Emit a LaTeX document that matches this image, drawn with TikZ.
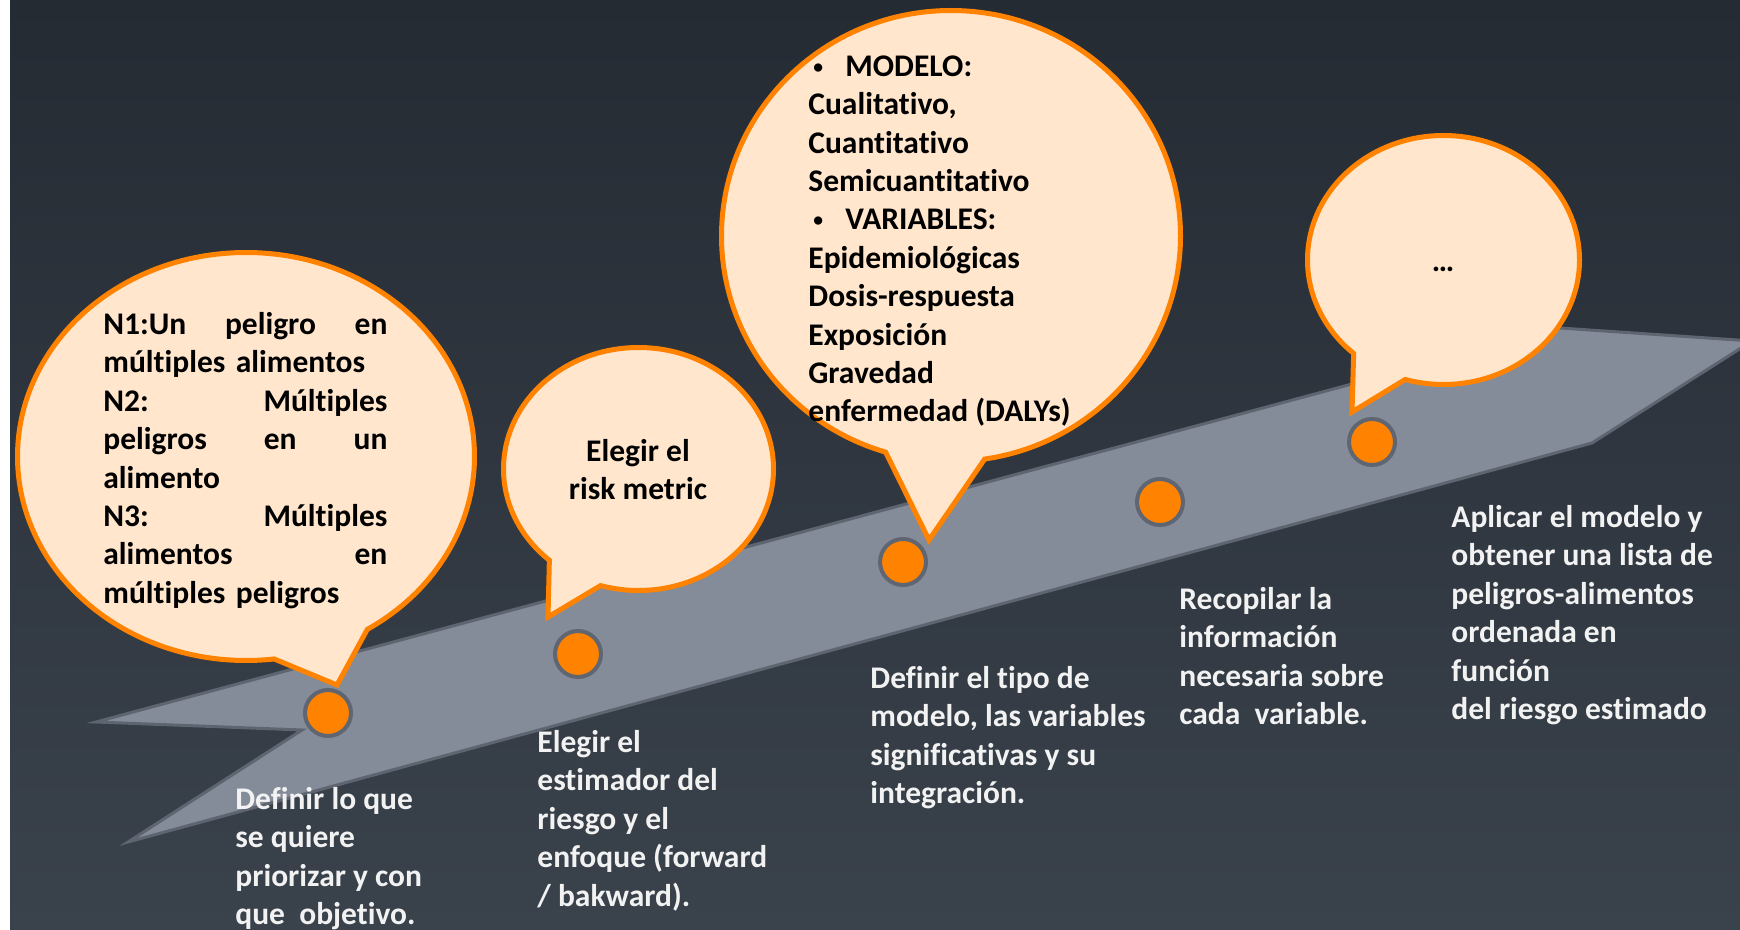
\documentclass[tikz,border=0pt]{standalone}
\usepackage{fontspec}
\setmainfont{Carlito}[Ligatures={NoCommon}]
\usetikzlibrary{shapes.callouts}
\definecolor{bgtop}{RGB}{37,43,51}
\definecolor{bgmid}{RGB}{39,46,55}
\definecolor{bgbot}{RGB}{58,66,76}
\definecolor{bandfill}{RGB}{133,140,153}
\definecolor{bandline}{RGB}{94,100,112}
\definecolor{orng}{RGB}{255,130,0}
\definecolor{peach}{RGB}{255,230,204}
\definecolor{dotline}{RGB}{95,102,114}
\definecolor{steptxt}{RGB}{242,242,242}
\newcommand{\bubbullet}{\hspace*{2.5pt}\makebox[16pt][l]{\raisebox{1.6pt}{\scalebox{0.62}{•}}}}
\tikzset{
	bubble/.style={ellipse callout, draw=orng, fill=peach, line width=2.5pt, callout pointer arc=25, inner sep=0pt},
	stepdot/.style={circle, draw=dotline, fill=orng, line width=2pt, minimum size=23pt, inner sep=0pt},
	bubtext/.style={anchor=north west, inner sep=0pt, align=left, text=black, font={\fontsize{15.75}{19.2}\selectfont\bfseries}},
	steptext/.style={bubtext, text=steptxt},
	band/.style={fill=bandfill, draw=bandline, line width=1.5pt, line join=miter}
}
\begin{document}
\begin{tikzpicture}[x=0.5pt, y=-0.5pt]
				\useasboundingbox (0, 0) rectangle (1740, 930);
				\fill[white] (0, 0) rectangle (10, 930);
				\shade[top color=bgtop, middle color=bgmid, bottom color=bgbot] (10, 0) rectangle (1740, 930);
				\draw[band] (96, 722) -- (1560, 328) -- (1752, 341) -- (1592, 443) -- (128, 842) -- (302, 730) -- cycle;
				\coordinate (tip1)at(337, 685);
				\coordinate (tip2)at(548, 617);
				\coordinate (tip3)at(929, 540);
				\coordinate (tip4)at(1352, 412);
				\node[bubble, minimum width=228.5pt, minimum height=204pt, callout absolute pointer={(tip1)}] (B1)at(246, 456.5) {};
				\node[bubble, minimum width=135pt, minimum height=121.5pt, callout absolute pointer={(tip2)}] (B2)at(638.5, 469) {};
				\node[bubble, minimum width=229.5pt, minimum height=225.5pt, callout absolute pointer={(tip3)}] (B3)at(951, 236) {};
				\node[bubble, minimum width=136pt, minimum height=124.5pt, callout absolute pointer={(tip4)}] (B4)at(1443.5, 260) {};
				\node[stepdot] (P1)at(328, 713) {};
				\node[stepdot] (P2)at(578, 654) {};
				\node[stepdot] (P3)at(903, 562) {};
				\node[stepdot] (P4)at(1160, 502) {};
				\node[stepdot] (P5)at(1372, 442) {};
				\node[bubtext, text width=142pt] (Q1)at(103, 312) {\rule{0pt}{11pt}N1:Un\hfill peligro\hfill en\\múltiples alimentos\\N2:\hfill Múltiples\\peligros\hfill en\hfill un\\alimento\\N3:\hfill Múltiples\\alimentos\hfill en\\múltiples peligros};
				\node[bubtext, anchor=north, align=center] (Q2)at(638, 439) {\rule{0pt}{11pt}Elegir el\\risk metric};
				\node[bubtext] (Q3)at(808, 54) {\rule{0pt}{11pt}\bubbullet MODELO:\\Cualitativo,\\Cuantitativo\\Semicuantitativo\\\bubbullet VARIABLES:\\Epidemiológicas\\Dosis-respuesta\\Exposición\\Gravedad\\enfermedad (DALYs)};
				\node[bubtext, anchor=base] (Q4)at(1443, 272) {…};
				\node[steptext] (T1)at(235, 787) {\rule{0pt}{11pt}Definir lo que\\se quiere\\priorizar y con\\que\ \ objetivo.};
				\node[steptext] (T2)at(537, 730) {\rule{0pt}{11pt}Elegir el\\estimador del\\riesgo y el\\enfoque (forward\\/ bakward).};
				\node[steptext] (T3)at(870, 666) {\rule{0pt}{11pt}Definir el tipo de\\modelo, las variables\\significativas y su\\integración.};
				\node[steptext] (T4)at(1179, 587) {\rule{0pt}{11pt}Recopilar la\\información\\necesaria sobre\\cada\ \ variable.};
				\node[steptext] (T5)at(1451, 505) {\rule{0pt}{11pt}Aplicar el modelo y\\obtener una lista de\\peligros-alimentos\\ordenada en\\función\\del riesgo estimado};
			\end{tikzpicture}
\end{document}
